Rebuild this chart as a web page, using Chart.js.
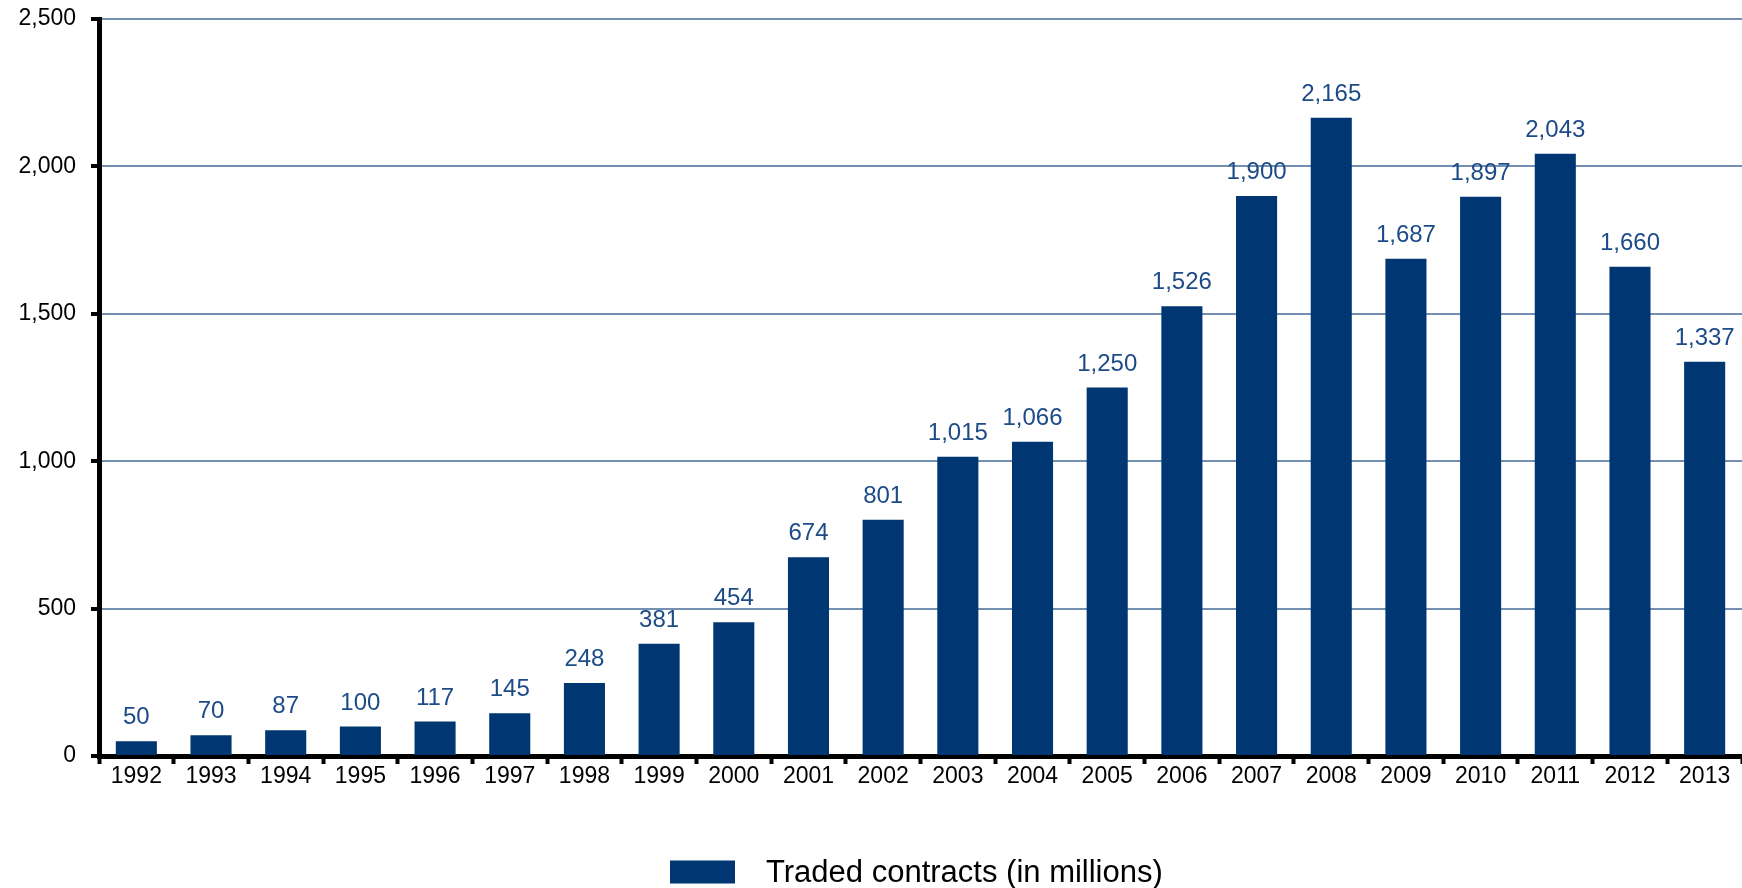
<!DOCTYPE html>
<html>
<head>
<meta charset="utf-8">
<style>
  html, body { margin: 0; padding: 0; background: #ffffff; }
  #wrap { width: 1742px; height: 888px; position: relative; }
</style>
<script src="https://cdn.jsdelivr.net/npm/chart.js@4.4.1/dist/chart.umd.min.js"></script>
</head>
<body>
<div id="wrap"><canvas id="chart" width="1742" height="888"></canvas></div>
<script>
// Yearly traded contracts, millions
const years = ['1992','1993','1994','1995','1996','1997','1998','1999','2000','2001','2002',
               '2003','2004','2005','2006','2007','2008','2009','2010','2011','2012','2013'];
const tradedContracts = [50, 70, 87, 100, 117, 145, 248, 381, 454, 674, 801,
                         1015, 1066, 1250, 1526, 1900, 2165, 1687, 1897, 2043, 1660, 1337];
const yTicks = [0, 500, 1000, 1500, 2000, 2500];
const seriesLabel = 'Traded contracts (in millions)';

const BAR_COLOR = '#003671';
const LABEL_COLOR = '#1c4b88';
const GRID_COLOR = '#7390b3';
const FONT = '"Liberation Sans", Arial, sans-serif';

const fmt = v => v.toLocaleString('en-US');

// Value labels above each bar
const valueLabels = {
  id: 'valueLabels',
  afterDatasetsDraw(chart) {
    const ctx = chart.ctx;
    ctx.save();
    ctx.font = '24px ' + FONT;
    ctx.fillStyle = LABEL_COLOR;
    ctx.textAlign = 'center';
    ctx.textBaseline = 'alphabetic';
    chart.getDatasetMeta(0).data.forEach((bar, i) => {
      ctx.fillText(fmt(chart.data.datasets[0].data[i]), bar.x, bar.y - 17);
    });
    ctx.restore();
  }
};

// Legend row under the axis
const bottomLegend = {
  id: 'bottomLegend',
  afterDraw(chart) {
    const ctx = chart.ctx;
    const ds = chart.data.datasets[0];
    const boxW = 65, boxH = 23, gap = 31;
    ctx.save();
    ctx.font = '31px ' + FONT;
    const x0 = 670;
    const cy = 872;
    ctx.fillStyle = ds.backgroundColor;
    ctx.fillRect(x0, cy - boxH / 2, boxW, boxH);
    ctx.fillStyle = '#000000';
    ctx.textAlign = 'left';
    ctx.textBaseline = 'middle';
    ctx.fillText(ds.label, x0 + boxW + gap, cy + 1);
    ctx.restore();
  }
};

new Chart(document.getElementById('chart'), {
  type: 'bar',
  data: {
    labels: years,
    datasets: [{
      label: seriesLabel,
      data: tradedContracts,
      backgroundColor: BAR_COLOR,
      borderWidth: 0,
      barPercentage: 0.55,
      categoryPercentage: 1.0
    }]
  },
  options: {
    responsive: false,
    animation: false,
    devicePixelRatio: 1,
    layout: { padding: { top: 19, right: 0, bottom: 92, left: 0 } },
    plugins: {
      legend: { display: false },
      tooltip: { enabled: false }
    },
    scales: {
      x: {
        offset: true,
        grid: {
          display: true,
          drawOnChartArea: false,
          drawTicks: true,
          tickLength: 8,
          offset: true,
          tickColor: '#000000',
          tickWidth: 4
        },
        border: { display: true, color: '#000000', width: 5 },
        ticks: {
          color: '#000000',
          font: { family: FONT, size: 23 },
          padding: -1,
          maxRotation: 0,
          autoSkip: false
        },
        afterFit(scale) { scale.height = 40; }
      },
      y: {
        min: 0,
        max: 2500,
        afterBuildTicks(scale) { scale.ticks = yTicks.map(v => ({ value: v })); },
        grid: {
          color: GRID_COLOR,
          lineWidth: 2,
          drawTicks: true,
          tickLength: 8,
          tickColor: '#000000',
          tickWidth: 4
        },
        border: { display: true, color: '#000000', width: 5 },
        ticks: {
          color: '#000000',
          font: { family: FONT, size: 23 },
          padding: 15,
          callback: v => fmt(v)
        },
        afterFit(scale) {
          scale.width = 99;
          scale.paddingTop = 0;
          scale.paddingBottom = 0;
        }
      }
    }
  },
  plugins: [valueLabels, bottomLegend]
});
</script>
</body>
</html>
